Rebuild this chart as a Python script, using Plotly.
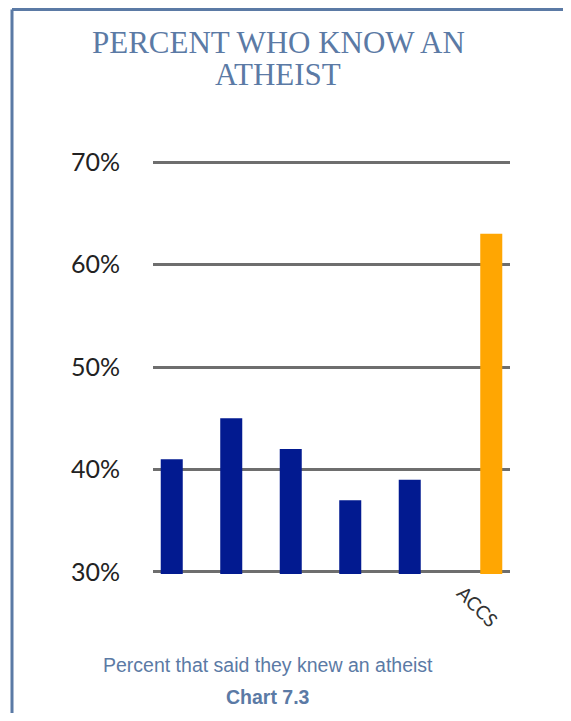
import plotly.graph_objects as go

categories = ["S1", "S2", "S3", "S4", "S5", "ACCS"]
tick_labels = ["", "", "", "", "", "ACCS"]
other_surveys = [41, 45, 42, 37, 39, None]
accs = [None, None, None, None, None, 63]
y_ticks = [30, 40, 50, 60, 70]
y_tick_labels = ["30%", "40%", "50%", "60%", "70%"]
title_lines = ["PERCENT WHO KNOW AN", "ATHEIST"]

# the page body has an 8px margin, so the figure is drawn 8px in from the corner
OFF = 8
W, H = 563, 705
L, R, T, B = 145, 61, 152, 139
pw, ph = W - L - R, H - T - B


def px(x):
    # screen pixel -> paper x
    return (x - OFF - L) / pw


def py(y):
    # screen pixel -> paper y
    return (H - B - (y - OFF)) / ph


blue_grey = "#5b7aa5"

fig = go.Figure()
fig.add_trace(go.Bar(x=categories, y=other_surveys, marker_color="#021a90",
                     marker_line_width=0, name="Other surveys"))
fig.add_trace(go.Bar(x=categories, y=accs, marker_color="#ffa602",
                     marker_line_width=0, name="ACCS"))

fig.update_layout(
    width=W, height=H,
    margin=dict(l=L, r=R, t=T, b=B),
    paper_bgcolor="white", plot_bgcolor="white",
    barmode="group", bargap=0.26, bargroupgap=0,
    showlegend=False,
)
fig.update_xaxes(showgrid=False, showticklabels=False, zeroline=False,
                 showline=False, ticks="")
fig.update_yaxes(range=[29.8, 70.2], tickvals=y_ticks, ticktext=y_tick_labels,
                 showgrid=True, gridcolor="#6e6e6e", gridwidth=3,
                 zeroline=False, showline=False, ticks="",
                 ticklabelstandoff=32,
                 tickfont=dict(family="Lato", size=25, color="#222222"))

# title, two lines
for line, ypos in zip(title_lines, [42, 75]):
    fig.add_annotation(x=px(278), xref="paper", xanchor="center",
                       y=py(ypos), yref="paper", yanchor="middle",
                       text=line, showarrow=False,
                       font=dict(family="Liberation Serif", size=31, color=blue_grey))

# ACCS category label, rotated
fig.add_annotation(x=categories[-1], xref="x", y=py(634), yref="paper",
                   xshift=-2, text=tick_labels[-1], textangle=45, showarrow=False,
                   font=dict(family="Lato", size=19, color="#333333"))

# captions
fig.add_annotation(x=px(268), xref="paper", xanchor="center",
                   y=py(665), yref="paper", yanchor="middle",
                   text="Percent that said they knew an atheist", showarrow=False,
                   font=dict(family="Liberation Sans", size=19.5, color=blue_grey))
fig.add_annotation(x=px(268), xref="paper", xanchor="center",
                   y=py(697), yref="paper", yanchor="middle",
                   text="<b>Chart 7.3</b>", showarrow=False,
                   font=dict(family="Liberation Sans", size=19.5, color=blue_grey))

# frame border on left and top
fig.add_shape(type="line", xref="paper", yref="paper",
              x0=px(12), x1=px(12), y0=py(9.5), y1=py(H + 30),
              line=dict(color=blue_grey, width=3))
fig.add_shape(type="line", xref="paper", yref="paper",
              x0=px(12), x1=px(W + 30), y0=py(9.5), y1=py(9.5),
              line=dict(color=blue_grey, width=3))

fig.write_html("out.html")
